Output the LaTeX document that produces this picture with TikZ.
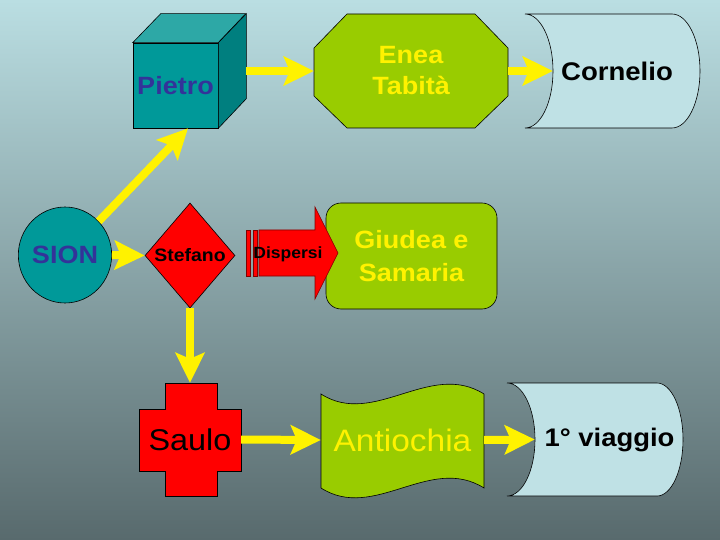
\documentclass[tikz,border=0pt]{standalone}
\usepackage{fontspec}
\setmainfont{Liberation Sans}[FakeStretch=1.08]
\usetikzlibrary{shapes.geometric,arrows.meta}
\definecolor{bgtop}{HTML}{BADEE2}
\definecolor{bgmid}{HTML}{97B5B9}
\definecolor{bgbot}{HTML}{586A6D}
\definecolor{tealfront}{HTML}{009999}
\definecolor{tealtop}{HTML}{2DA8A6}
\definecolor{tealside}{HTML}{007F7F}
\definecolor{sionblue}{HTML}{333399}
\definecolor{leaf}{HTML}{99CC00}
\definecolor{paleblue}{HTML}{BFE1E5}
\definecolor{darkred}{HTML}{800000}
\newcommand\myfs[2]{\fontsize{#1}{#2}\selectfont}
\pgfdeclarelayer{bglayer}
\pgfdeclarelayer{shapelayer}
\pgfsetlayers{bglayer,shapelayer,main}
\begin{document}
\begin{tikzpicture}[x=1pt,y=-1pt,
  yarrow/.style={draw=yellow, line width=8pt, -{Stealth[length=30pt,width=29pt,inset=6pt]}},
  outl/.style={draw=black, line width=0.6pt},
  box/.style={rectangle, inner sep=0pt}]
\useasboundingbox (0,0) rectangle (720,540);
\begin{pgfonlayer}{bglayer}
\shade[top color=bgtop, middle color=bgmid, bottom color=bgbot] (0,0) rectangle (720,540);
\end{pgfonlayer}

% Pietro cube
\node[box, outl, fill=tealfront, minimum width=85pt, minimum height=85pt,
  text=sionblue, font=\bfseries\myfs{25}{30}] (pietro) at (175.5,85.5) {\raisebox{-2pt}{Pietro}};
\filldraw[outl, fill=tealtop] (pietro.north west) -- ++(28pt,29pt) -- ++(85pt,0pt) -- (pietro.north east) -- cycle;
\filldraw[outl, fill=tealside] (pietro.north east) -- ++(28pt,29pt) -- ++(0pt,-85pt) -- (pietro.south east) -- cycle;

\begin{pgfonlayer}{shapelayer}
% Enea octagon
\filldraw[outl, fill=leaf] (347,14) -- (475,14) -- (508,48) -- (508,96) -- (475,128)
  -- (347,128) -- (314,96) -- (314,48) -- cycle;
% Cornelio
\filldraw[outl, fill=paleblue] (525,14) -- (672,14)
  arc[start angle=90, end angle=-90, x radius=28pt, y radius=57pt] -- (525,128)
  arc[start angle=-90, end angle=90, x radius=28pt, y radius=57pt] -- cycle;
% 1 viaggio
\filldraw[outl, fill=paleblue] (507,383) -- (657,383)
  arc[start angle=90, end angle=-90, x radius=26pt, y radius=56.5pt] -- (507,496)
  arc[start angle=-90, end angle=90, x radius=28pt, y radius=56.5pt] -- cycle;
% Saulo cross
\filldraw[outl, fill=red] (165,383) -- (217,383) -- (217,409) -- (241,409) -- (241,471) -- (217,471)
  -- (217,496) -- (165,496) -- (165,471) -- (139,471) -- (139,409) -- (165,409) -- cycle;
% Antiochia wave
\filldraw[outl, fill=leaf] (321,394) .. controls (374,428) and (430,360) .. (484,394)
  -- (484,488) .. controls (430,454) and (374,522) .. (321,488) -- cycle;
\end{pgfonlayer}

\node[box, minimum width=194pt, minimum height=114pt, text=yellow,
  font=\bfseries\myfs{25}{31}, align=center] (enea) at (411,71) {Enea\\Tabità};
\node[box, minimum width=175pt, minimum height=114pt, font=\bfseries\myfs{25.5}{30}] (cornelio) at (612.5,71) {\hspace*{9pt}Cornelio};

% SION
\node[ellipse, outl, fill=tealfront, minimum width=90pt, minimum height=96pt, inner sep=0pt,
  text=sionblue, font=\bfseries\myfs{25}{30}] (sion) at (65,255) {SION};

% Stefano
\node[diamond, aspect=0.857, outl, fill=red, minimum width=90pt, minimum height=105pt, inner sep=0pt,
  font=\bfseries\myfs{18}{22}] (stefano) at (190,255.5) {Stefano};

% Giudea
\node[box, rounded corners=15pt, outl, fill=leaf, minimum width=171pt, minimum height=106pt,
  text=yellow, font=\bfseries\myfs{25}{33}, align=center] (giudea) at (411.5,256) {Giudea e\\Samaria};

% Dispersi
\filldraw[draw=darkred, line width=0.6pt, fill=red] (246,230) rectangle (250,276);
\filldraw[draw=darkred, line width=0.6pt, fill=red] (253,230) rectangle (257,276);
\filldraw[draw=darkred, line width=0.6pt, fill=red] (259,230) -- (315,230) -- (315,207) -- (338,253)
  -- (315,299) -- (315,276) -- (259,276) -- cycle;
\node[box, font=\bfseries\myfs{16.2}{20}] (dispersi) at (288,254) {Dispersi};

% Saulo, Antiochia, viaggio
\node[box, minimum width=102pt, minimum height=113pt, font=\myfs{30}{34}] (saulo) at (190,439.5) {Saulo};
\node[box, minimum width=163pt, minimum height=113pt, text=yellow, font=\myfs{31}{35}] (antiochia) at (402.5,440) {Antiochia};
\node[box, minimum width=176pt, minimum height=113pt, font=\bfseries\myfs{25.4}{30}] (viaggio) at (595,439.5) {\hspace*{29pt}1° viaggio};

% connectors
\draw[yarrow] ([shift={(28pt,14.5pt)}]pietro.east) -- (enea.west);
\draw[yarrow] (enea.east) -- ([xshift=28pt]cornelio.west);
\draw[yarrow] (sion.45) -- ([xshift=12.5pt]pietro.south);
\draw[yarrow] (sion.east) -- (stefano.west);
\draw[yarrow] (stefano.south) -- (saulo.north);
\draw[yarrow] (saulo.east) -- (antiochia.west);
\draw[yarrow] (antiochia.east) -- ([xshift=28pt]viaggio.west);
\end{tikzpicture}
\end{document}
